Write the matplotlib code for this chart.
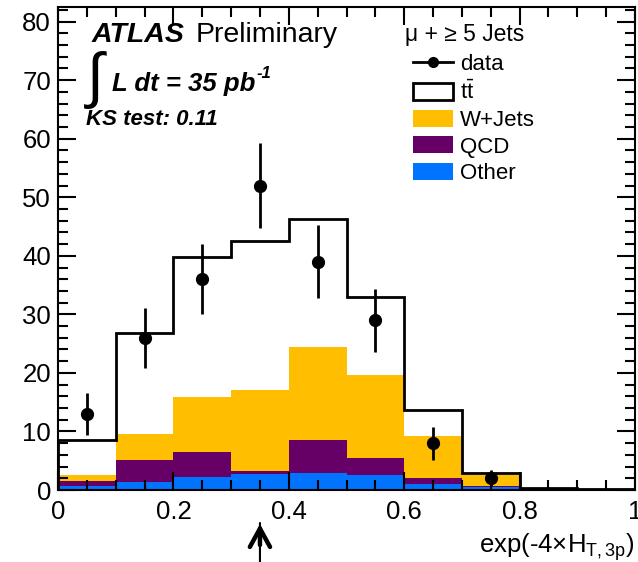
#exp(-4 x HT,3p) distribution, mu + >=5 jets, ATLAS preliminary style
import numpy as np
import matplotlib
matplotlib.use('Agg')
import matplotlib.pyplot as plt
from matplotlib.lines import Line2D
from matplotlib.patches import Patch

plt.rcParams['font.family'] = ['Liberation Sans', 'DejaVu Sans']
plt.rcParams['mathtext.fontset'] = 'custom'
plt.rcParams['mathtext.rm'] = 'Liberation Sans'
plt.rcParams['mathtext.it'] = 'Liberation Sans:italic'
plt.rcParams['mathtext.bf'] = 'Liberation Sans:bold'

#bin edges
edges = np.linspace(0, 1, 11)
#stacked components (bottom to top)
other = [0.6, 1.4, 2.2, 2.7, 2.85, 2.6, 1.1, 0.5, 0.1, 0.05]
qcd   = [0.9, 3.8, 4.3, 0.6, 5.65, 2.9, 0.9, 0.1, 0.05, 0.0]
wjets = [1.1, 4.4, 9.4, 13.8, 15.9, 14.2, 7.2, 1.9, 0.2, 0.05]
ttbar = [6.0, 17.3, 23.9, 25.4, 21.9, 13.3, 4.5, 0.4, 0.05, 0.0]
#data
data_x   = [0.05, 0.15, 0.25, 0.35, 0.45, 0.55, 0.65, 0.75]
data_y   = [13, 26, 36, 52, 39, 29, 8, 2]
data_err = [3.6, 5.1, 6.0, 7.2, 6.2, 5.4, 2.8, 1.4]

c_other = '#0073ff'
c_qcd = '#660066'
c_w = '#ffbf00'

fig = plt.figure(figsize=(6.38, 5.62), dpi=100)
ax = fig.add_axes([58/638, 72/562, 577/638, 483/562])

s1 = np.array(other)
s2 = s1 + np.array(qcd)
s3 = s2 + np.array(wjets)
s4 = s3 + np.array(ttbar)

ax.stairs(s1, edges, baseline=0, fill=True, color=c_other, lw=0)
ax.stairs(s2, edges, baseline=s1, fill=True, color=c_qcd, lw=0)
ax.stairs(s3, edges, baseline=s2, fill=True, color=c_w, lw=0)
ax.stairs(s4, edges, color='black', lw=2)

ax.errorbar(data_x, data_y, yerr=data_err, fmt='o', color='black',
            ms=8.5, elinewidth=2, capsize=0)

ax.set_xlim(0, 1)
ax.set_ylim(0, 82.5)
ax.set_xticks(np.arange(0, 1.01, 0.2))
ax.set_xticklabels(['0', '0.2', '0.4', '0.6', '0.8', '1'])
ax.set_xticks(np.arange(0, 1.001, 0.05), minor=True)
ax.set_yticks(np.arange(0, 81, 10))
ax.set_yticks(np.arange(0, 83, 2), minor=True)
ax.tick_params(which='both', direction='in', top=True, right=True, width=1.5,
               labelsize=18.5)
ax.tick_params(which='major', length=13)
ax.tick_params(which='minor', length=7)
ax.tick_params(axis='x', pad=7)
ax.tick_params(axis='y', pad=5)
for sp in ax.spines.values():
    sp.set_linewidth(1.5)

ax.text(1.0, -(553-490)/483, r'exp(-4$\times$H$_{\mathrm{T,3p}}$)', transform=ax.transAxes,
        ha='right', va='baseline', fontsize=18.5)

#arrow under the axis
ax.annotate('', xy=(0.35, -(523-490)/483), xycoords=('data', 'axes fraction'),
            xytext=(0.35, -0.16), textcoords=('data', 'axes fraction'),
            arrowprops=dict(arrowstyle='-', lw=1.5, color='black',
                            shrinkA=0, shrinkB=0), annotation_clip=False)
ax.annotate('', xy=(0.35, -(524-490)/483), xycoords=('data', 'axes fraction'),
            xytext=(0.35, -(545-490)/483), textcoords=('data', 'axes fraction'),
            arrowprops=dict(arrowstyle='->,head_length=0.6,head_width=0.33', lw=3.2,
                            color='black', mutation_scale=22, shrinkA=0, shrinkB=0,
                            joinstyle='miter'),
            annotation_clip=False)

#labels
fig.text(92/638, 1-42/562, 'ATLAS', fontsize=20.5, fontweight='bold', fontstyle='italic')
fig.text(196/638, 1-42/562, 'Preliminary', fontsize=20.5)
fig.text(84/638, 1-80/562, r'$\int$', fontsize=44, va='center', family='DejaVu Sans')
lum = fig.text(112/638, 1-91/562, 'L dt = 35 pb', fontsize=18.5,
               fontweight='bold', fontstyle='italic')
fig.canvas.draw()
bb = lum.get_window_extent().transformed(fig.transFigure.inverted())
fig.text(bb.x1 + 1/638, 1-78/562, '-1', fontsize=12,
         fontweight='bold', fontstyle='italic')
fig.text(86/638, 1-125/562, 'KS test: 0.11', fontsize=16,
         fontweight='bold', fontstyle='italic')

#legend
fig.text(405/638, 1-35/562, 'μ + ≥ 5 Jets', fontsize=16.5, va='center')
handles = [Line2D([], [], color='black', marker='o', ms=7, lw=2),
           Patch(facecolor='white', edgecolor='black', lw=2),
           Patch(facecolor=c_w, edgecolor='none'),
           Patch(facecolor=c_qcd, edgecolor='none'),
           Patch(facecolor=c_other, edgecolor='none')]
labels = ['data', r'$\mathrm{t\bar{t}}$', 'W+Jets', 'QCD', 'Other']
fig.legend(handles, labels, loc='upper left', bbox_to_anchor=(413/638, 1-54/562),
           frameon=False, fontsize=16, handlelength=1.8, handleheight=0.8,
           handletextpad=0.32, labelspacing=0.25, borderpad=0, borderaxespad=0)

fig.savefig('out.png', dpi=100)
